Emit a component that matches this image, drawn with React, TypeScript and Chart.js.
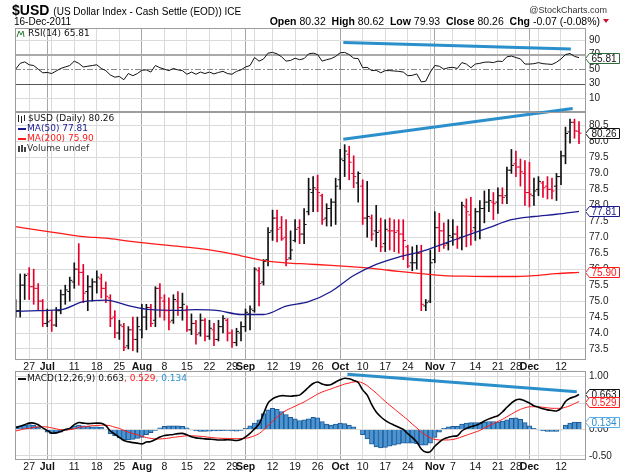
import React, { useEffect, useRef } from "react";
import { Chart, registerables } from "chart.js";

Chart.register(...registerables);

const W = 625;
const H = 473;
const PLOT_LEFT = 15;
const AXIS_W = 39;
const SANS = "'Liberation Sans', Arial, sans-serif";
const LEGEND_FONT = "'DejaVu Sans', Verdana, sans-serif";

// ---- calendar ----
const FIRST_SESSION = "2011-06-22";
const LAST_SESSION = "2011-12-16";
const HOLIDAYS = ["2011-09-05", "2011-11-24"];
const MONTHS = ["Jan", "Feb", "Mar", "Apr", "May", "Jun", "Jul", "Aug", "Sep", "Oct", "Nov", "Dec"];

// ---- daily bars ----
const opens = [
  74.95, 74.7, 75.5, 75.85, 75.45, 75.4, 75.0, 74.3, 74.4, 74.25, 74.7, 75.2, 75.3, 75.6, 76.0, 75.9, 75.3, 75.45, 75.6, 75.7,
  75.4, 75.1, 74.5, 74.0, 74.2, 73.6, 74.1, 73.8, 74.1, 74.5, 74.8, 74.4, 75.4, 75.0, 74.7, 74.4, 75.0, 74.8, 74.7, 74.1,
  74.3, 74.0, 74.4, 73.9, 74.1, 73.8, 74.2, 74.4, 74.0, 73.7, 74.0, 74.2, 74.6, 74.7, 75.95, 75.6, 76.3, 77.2, 77.6, 77.3,
  77.0, 76.35, 76.9, 77.3, 77.1, 77.8, 78.4, 78.5, 78.3, 77.6, 77.9, 78.1, 78.8, 79.4, 79.6, 79.0, 78.7, 78.6, 77.6, 77.6,
  77.2, 77.2, 76.8, 77.2, 77.2, 77.2, 77.1, 76.7, 76.2, 76.2, 76.5, 74.85, 75.0, 76.3, 77.3, 77.2, 76.8, 77.0, 77.1, 77.0,
  77.95, 77.7, 77.3, 77.8, 77.9, 78.1, 78.1, 78.1, 78.3, 78.3, 79.1, 79.3, 79.2, 79.0, 78.4, 78.3, 78.5, 78.7, 78.6, 78.5,
  78.6, 78.9, 79.55, 80.3, 80.6, 80.32,
];
const highs = [
  75.05, 75.85, 75.85, 76.05, 76.0, 75.55, 75.05, 74.75, 74.7, 74.8, 75.35, 75.5, 75.75, 76.2, 76.8, 76.15, 75.8, 75.7, 75.95, 75.85,
  75.6, 75.2, 74.7, 74.4, 74.3, 74.2, 74.5, 74.5, 74.9, 74.9, 74.9, 75.45, 75.55, 75.2, 75.1, 75.2, 75.3, 75.25, 74.85, 74.6,
  74.4, 74.6, 74.45, 74.4, 74.3, 74.4, 74.55, 74.45, 74.1, 74.15, 74.35, 74.75, 74.85, 76.05, 76.05, 76.3, 77.3, 77.85, 77.85, 77.65,
  77.55, 77.2, 77.55, 77.55, 77.9, 78.85, 78.9, 78.95, 78.35, 78.05, 78.2, 78.85, 79.75, 79.9, 79.85, 79.55, 79.05, 78.8, 78.75, 77.7,
  78.0, 77.6, 77.55, 77.6, 77.55, 77.55, 77.55, 76.75, 76.7, 76.75, 76.75, 75.05, 76.6, 77.8, 77.75, 77.45, 77.55, 77.55, 77.35, 78.1,
  78.2, 78.25, 77.9, 78.15, 78.45, 78.5, 78.4, 78.55, 78.55, 79.2, 79.75, 79.7, 79.45, 79.4, 79.35, 78.85, 78.9, 78.75, 78.9, 78.85,
  79.0, 79.7, 80.45, 80.7, 80.7, 80.62,
];
const lows = [
  74.5, 74.5, 75.05, 75.05, 74.9, 74.7, 74.2, 74.2, 74.05, 74.2, 74.6, 74.9, 75.0, 75.4, 75.5, 74.95, 74.7, 75.0, 75.25, 75.1,
  74.95, 74.2, 73.85, 73.8, 73.45, 73.5, 73.45, 73.4, 73.85, 74.1, 74.2, 74.2, 74.5, 74.4, 74.1, 74.3, 74.55, 74.4, 74.05, 73.95,
  73.65, 73.9, 73.75, 73.8, 73.6, 73.75, 74.0, 73.75, 73.55, 73.6, 73.75, 74.05, 74.1, 74.65, 74.85, 75.5, 76.1, 76.9, 76.85, 76.9,
  76.1, 76.3, 76.85, 76.8, 76.8, 77.7, 77.8, 77.8, 77.4, 77.35, 77.35, 77.4, 78.5, 78.9, 78.8, 78.55, 78.1, 77.4, 77.0, 76.9,
  76.7, 76.55, 76.55, 76.6, 76.55, 76.5, 76.3, 76.05, 75.95, 76.0, 74.7, 74.7, 74.95, 76.2, 76.55, 76.65, 76.6, 76.75, 76.65, 76.6,
  76.7, 76.75, 76.9, 76.95, 77.45, 77.8, 77.55, 77.75, 78.05, 78.05, 79.0, 78.9, 78.6, 78.0, 77.95, 78.0, 78.3, 78.25, 78.2, 78.2,
  78.15, 78.65, 79.3, 79.95, 80.1, 79.93,
];
const closes = [
  74.7, 75.5, 75.8, 75.45, 75.4, 75.0, 74.3, 74.35, 74.25, 74.7, 75.2, 75.35, 75.65, 76.0, 75.9, 75.25, 75.45, 75.6, 75.75, 75.4,
  75.15, 74.45, 74.0, 74.25, 73.55, 74.1, 73.8, 74.2, 74.5, 74.8, 74.3, 75.4, 75.1, 74.7, 74.35, 75.05, 74.8, 74.9, 74.1, 74.3,
  73.95, 74.4, 73.9, 74.15, 73.8, 74.2, 74.45, 74.0, 73.7, 74.05, 74.2, 74.65, 74.75, 76.0, 75.55, 76.25, 77.15, 77.6, 77.25, 76.95,
  76.3, 76.6, 77.25, 77.1, 77.4, 78.5, 78.55, 78.4, 77.55, 77.9, 78.1, 78.6, 79.45, 79.7, 79.35, 78.9, 79.0, 77.6, 77.65, 77.1,
  77.15, 76.7, 77.25, 77.2, 77.15, 77.1, 76.9, 76.1, 76.2, 76.5, 74.9, 74.95, 76.2, 77.3, 77.2, 76.75, 77.05, 77.1, 76.95, 78.0,
  77.8, 77.2, 77.8, 77.9, 78.1, 78.15, 78.05, 78.3, 78.25, 79.1, 79.25, 79.2, 79.05, 78.4, 78.35, 78.45, 78.75, 78.55, 78.5, 78.45,
  78.9, 79.55, 80.25, 80.6, 80.33, 80.26,
];

// moving averages, read every MA_STEP sessions
const MA_STEP = 5;
const ma50 = [
  74.68, 74.7, 74.73, 74.98, 75.03, 74.86, 74.73, 74.71, 74.73, 74.7, 74.58, 74.58, 74.84, 74.98, 75.3, 75.8,
  76.15, 76.38, 76.55, 76.8, 77.05, 77.3, 77.55, 77.65, 77.72, 77.81,
];
const ma200 = [
  77.33, 77.22, 77.12, 77.02, 76.97, 76.88, 76.8, 76.73, 76.66, 76.56, 76.42, 76.27, 76.2, 76.16, 76.12, 76.07,
  76.01, 75.93, 75.86, 75.8, 75.78, 75.77, 75.77, 75.8, 75.86, 75.9,
];

// ---- indicators ----
const rsi14 = [
  50, 58, 60, 56, 55, 50, 45, 45.5, 44, 47.5, 51, 53, 55, 61, 58, 53, 54, 55, 56, 51,
  48, 42, 39, 40, 35.5, 44, 41, 44, 48.5, 49, 46, 55, 52, 50, 48, 51, 49, 48, 43, 46,
  43, 46, 44, 46, 43.5, 45.5, 47, 44, 43, 47, 49, 53, 55, 66, 61, 64, 72, 73, 71, 67,
  61, 62, 65, 63, 64.5, 71, 72, 70, 61, 63, 64.5, 67.5, 72.5, 73, 70, 65, 64.5, 52, 52.5, 48,
  48.5, 45, 48, 48, 47.5, 47, 46, 41, 41.5, 43.5, 32.5, 33.5, 46, 55, 54, 50, 52, 52.5, 51, 59,
  57, 52, 57, 58, 59.5, 59.8, 59, 61, 60.5, 67, 68, 66, 64, 57, 57, 57.5, 59, 57.5, 57, 56.5,
  59.5, 64, 70, 71.5, 67.5, 65.81,
];
const macdLine = [
  0.03, 0.06, 0.09, 0.12, 0.12, 0.09, 0.03, -0.02, -0.07, -0.065, -0.04, 0.0, 0.02, 0.09, 0.13, 0.12, 0.11, 0.115, 0.12, 0.115,
  0.07, -0.03, -0.09, -0.15, -0.21, -0.235, -0.25, -0.26, -0.275, -0.24, -0.23, -0.19, -0.145, -0.115, -0.105, -0.095, -0.08, -0.075, -0.1, -0.14,
  -0.16, -0.17, -0.18, -0.185, -0.19, -0.2, -0.2, -0.195, -0.2, -0.21, -0.19, -0.14, -0.075, 0.01, 0.1, 0.3, 0.5, 0.58, 0.62, 0.64,
  0.635, 0.63, 0.64, 0.65, 0.72, 0.8, 0.87, 0.9, 0.86, 0.84, 0.85, 0.9, 0.94, 0.97, 0.96, 0.93, 0.89, 0.75, 0.65, 0.47,
  0.33, 0.24, 0.17, 0.12, 0.08, 0.04, 0.0, -0.08, -0.15, -0.24, -0.37, -0.43, -0.42, -0.32, -0.24, -0.18, -0.15, -0.13, -0.12, -0.03,
  0.02, 0.05, 0.075, 0.11, 0.16, 0.2, 0.23, 0.26, 0.33, 0.42, 0.5, 0.56, 0.57, 0.54, 0.5, 0.45, 0.42, 0.39, 0.37, 0.36,
  0.35, 0.4, 0.53, 0.59, 0.62, 0.663,
];
const macdSignal = [
  -0.03, -0.01, 0.01, 0.02, 0.04, 0.05, 0.05, 0.045, 0.03, 0.01, -0.005, -0.01, -0.005, 0.01, 0.04, 0.05, 0.06, 0.07, 0.075, 0.08,
  0.08, 0.07, 0.04, 0.02, -0.02, -0.05, -0.08, -0.1, -0.13, -0.155, -0.17, -0.18, -0.18, -0.175, -0.165, -0.15, -0.14, -0.13, -0.12, -0.12,
  -0.125, -0.13, -0.14, -0.15, -0.16, -0.165, -0.17, -0.17, -0.175, -0.175, -0.175, -0.17, -0.15, -0.12, -0.08, -0.01, 0.07, 0.15, 0.23, 0.3,
  0.36, 0.4, 0.44, 0.48, 0.52, 0.57, 0.62, 0.67, 0.71, 0.74, 0.77, 0.8, 0.83, 0.86, 0.88, 0.9, 0.905, 0.88, 0.83, 0.76,
  0.69, 0.61, 0.53, 0.46, 0.39, 0.32, 0.25, 0.18, 0.1, 0.03, -0.05, -0.11, -0.16, -0.19, -0.2, -0.2, -0.2, -0.19, -0.17, -0.14,
  -0.11, -0.08, -0.05, -0.02, 0.03, 0.07, 0.11, 0.15, 0.19, 0.24, 0.29, 0.34, 0.38, 0.41, 0.43, 0.43, 0.43, 0.42, 0.41, 0.4,
  0.4, 0.4, 0.42, 0.45, 0.49, 0.529,
];
const macdHist = [
  0.06, 0.07, 0.08, 0.09, 0.08, 0.05, 0.0, -0.05, -0.08, -0.07, -0.05, -0.02, 0.02, 0.07, 0.08, 0.07, 0.06, 0.05, 0.05, 0.04,
  0.0, -0.08, -0.12, -0.16, -0.2, -0.2, -0.19, -0.17, -0.15, -0.1, -0.06, -0.02, 0.03, 0.06, 0.07, 0.07, 0.07, 0.06, 0.03, -0.01,
  -0.03, -0.04, -0.04, -0.035, -0.03, -0.03, -0.025, -0.02, -0.03, -0.035, -0.02, 0.02, 0.07, 0.12, 0.18, 0.3, 0.37, 0.4, 0.38, 0.34,
  0.28, 0.23, 0.2, 0.17, 0.18, 0.2, 0.23, 0.22, 0.15, 0.1, 0.08, 0.1, 0.12, 0.11, 0.08, 0.05, 0.0, -0.1, -0.18, -0.28,
  -0.33, -0.35, -0.34, -0.32, -0.3, -0.28, -0.26, -0.26, -0.26, -0.27, -0.3, -0.3, -0.26, -0.15, -0.05, 0.02, 0.05, 0.06, 0.06, 0.1,
  0.12, 0.13, 0.13, 0.13, 0.14, 0.15, 0.15, 0.14, 0.16, 0.18, 0.21, 0.22, 0.19, 0.13, 0.07, 0.02, -0.01, -0.03, -0.04, -0.04,
  -0.04, -0.01, 0.08, 0.12, 0.14, 0.134,
];

// ---- axis ticks ----
const priceTicks = [73.5, 74.0, 74.5, 75.0, 75.5, 76.0, 76.5, 77.0, 77.5, 78.0, 78.5, 79.0, 79.5, 80.0, 80.5];
const rsiTicks = [10, 30, 50, 70, 90];
const macdTicks = [-0.5, -0.25, 0, 0.25, 0.5, 0.75, 1.0];

// ---- drawn trend lines (session index, value) ----
const priceTrend = [{ x: 72.7, y: 80.07 }, { x: 123.6, y: 81.03 }];
const rsiTrend = [{ x: 72.7, y: 86.6 }, { x: 123.2, y: 77.6 }];
const macdTrend = [{ x: 73.6, y: 1.045 }, { x: 124.5, y: 0.715 }];

// ---- header ----
const quote = { open: "80.32", high: "80.62", low: "79.93", close: "80.26", chg: "-0.07 (-0.08%)" };

const GRID = "#dadada";
const MONTH_GRID = "#a6a6a6";
const FRAME = "#9c9c9c";
const UP = "#111111";
const DOWN = "#e4002b";
const TREND = "#2b8fcb";

function tradingSessions(): Date[] {
  const out: Date[] = [];
  const end = Date.parse(LAST_SESSION + "T00:00:00Z");
  for (let t = Date.parse(FIRST_SESSION + "T00:00:00Z"); t <= end; t += 86400000) {
    const d = new Date(t);
    const wd = d.getUTCDay();
    if (wd === 0 || wd === 6) continue;
    if (HOLIDAYS.includes(d.toISOString().slice(0, 10))) continue;
    out.push(d);
  }
  return out;
}

const sessions = tradingSessions();
const X_MIN = -0.15;
const X_MAX = sessions.length + 0.55;

type AxisTick = { value: number; label: string; month: boolean };
function buildAxisTicks(days: Date[]): AxisTick[] {
  const ticks: AxisTick[] = [];
  for (let i = 1; i < days.length; i++) {
    const d = days[i];
    const p = days[i - 1];
    const newMonth = d.getUTCMonth() !== p.getUTCMonth();
    const newWeek = d.getUTCDay() < p.getUTCDay() || d.getTime() - p.getTime() > 3 * 86400000;
    if (newMonth) ticks.push({ value: i, label: MONTHS[d.getUTCMonth()], month: true });
    else if (newWeek) ticks.push({ value: i, label: String(d.getUTCDate()), month: false });
  }
  const monthPos = ticks.filter((t) => t.month).map((t) => t.value);
  for (const t of ticks) {
    if (!t.month && monthPos.some((m) => Math.abs(m - t.value) <= 2)) t.label = "";
  }
  return ticks;
}
const axisTicks = buildAxisTicks(sessions);
const monthTickSet = new Set(axisTicks.filter((t) => t.month).map((t) => t.value));
const tickLabel = new Map(axisTicks.map((t) => [t.value, t.label]));

function xAxis(showLabels: boolean, height: number) {
  return {
    type: "linear",
    min: X_MIN,
    max: X_MAX,
    offset: false,
    afterBuildTicks: (s: any) => {
      s.ticks = axisTicks.map((t) => ({ value: t.value }));
    },
    afterFit: (s: any) => {
      s.height = height;
      s.paddingLeft = 0;
      s.paddingRight = 0;
      s.paddingTop = 0;
      s.paddingBottom = 0;
    },
    grid: {
      offset: false,
      drawTicks: false,
      color: (c: any) => (c.tick && monthTickSet.has(c.tick.value) ? MONTH_GRID : GRID),
      lineWidth: 1,
    },
    border: { display: false },
    ticks: {
      display: showLabels,
      autoSkip: false,
      maxRotation: 0,
      padding: 1,
      color: "#111",
      font: (c: any) => ({
        family: SANS,
        size: 10.5,
        weight: c.tick && monthTickSet.has(c.tick.value) ? "bold" : "normal",
      }),
      callback: (v: any) => tickLabel.get(v) ?? "",
    },
  };
}

function yAxis(min: number, max: number, values: number[], fmt: (v: number) => string, gridColor?: (v: number) => string) {
  return {
    position: "right",
    min,
    max,
    beginAtZero: false,
    afterBuildTicks: (s: any) => {
      s.ticks = values.map((v) => ({ value: v }));
    },
    afterFit: (s: any) => {
      s.width = AXIS_W;
      s.paddingTop = 0;
      s.paddingBottom = 0;
      s.paddingLeft = 0;
      s.paddingRight = 0;
    },
    grid: {
      drawTicks: false,
      color: (c: any) => (gridColor && c.tick ? gridColor(c.tick.value) : GRID),
    },
    border: { display: false },
    ticks: {
      padding: 3,
      color: "#222",
      font: { family: SANS, size: 10 },
      callback: (v: any) => fmt(Number(v)),
    },
  };
}

function drawTag(ctx: CanvasRenderingContext2D, x: number, y: number, text: string, stroke: string, color: string) {
  ctx.save();
  ctx.font = `10px ${SANS}`;
  const w = Math.ceil(ctx.measureText(text).width) + 4;
  const h = 10;
  const tip = 4;
  const top = Math.round(y - h / 2) + 0.5;
  const x0 = Math.round(x) + 0.5;
  ctx.beginPath();
  ctx.moveTo(x0, top + h / 2);
  ctx.lineTo(x0 + tip, top);
  ctx.lineTo(x0 + tip + w, top);
  ctx.lineTo(x0 + tip + w, top + h);
  ctx.lineTo(x0 + tip, top + h);
  ctx.closePath();
  ctx.fillStyle = "#fff";
  ctx.fill();
  ctx.strokeStyle = stroke;
  ctx.lineWidth = 1;
  ctx.stroke();
  ctx.fillStyle = color;
  ctx.textAlign = "left";
  ctx.textBaseline = "middle";
  ctx.fillText(text, x0 + tip + 2, top + h / 2 + 0.5);
  ctx.restore();
}

const framePlugin = {
  id: "panelFrame",
  afterDraw(chart: any) {
    const { ctx, chartArea: a } = chart;
    ctx.save();
    ctx.strokeStyle = FRAME;
    ctx.lineWidth = 1;
    ctx.strokeRect(Math.round(a.left) + 0.5, Math.round(a.top) + 0.5, Math.round(a.right - a.left) - 1, Math.round(a.bottom - a.top) - 1);
    ctx.restore();
  },
};

function legendRow(ctx: CanvasRenderingContext2D, x: number, y: number, parts: { text: string; color: string }[]) {
  ctx.font = `9px ${LEGEND_FONT}`;
  ctx.textBaseline = "middle";
  ctx.textAlign = "left";
  let cx = x;
  for (const p of parts) {
    ctx.fillStyle = p.color;
    ctx.fillText(p.text, cx, y);
    cx += ctx.measureText(p.text).width;
  }
}

function commonOptions(padding: any) {
  return {
    animation: false,
    responsive: false,
    maintainAspectRatio: false,
    devicePixelRatio: 1,
    events: [],
    layout: { padding },
    plugins: { legend: { display: false }, tooltip: { enabled: false } },
  };
}

function makeRsiChart(canvas: HTMLCanvasElement) {
  const headerPlugin = {
    id: "header",
    afterDraw(chart: any) {
      const { ctx } = chart;
      ctx.save();
      ctx.textBaseline = "alphabetic";
      ctx.textAlign = "left";
      ctx.fillStyle = "#000";
      ctx.font = `bold 14px ${SANS}`;
      ctx.fillText("$USD", 12, 15);
      const w = ctx.measureText("$USD").width;
      ctx.font = `10px ${SANS}`;
      ctx.fillText("(US Dollar Index - Cash Settle (EOD)) ICE", 12 + w + 4, 15);
      ctx.fillStyle = "#333";
      ctx.font = `9px ${SANS}`;
      ctx.textAlign = "right";
      ctx.fillText("@StockCharts.com", 607, 13);
      ctx.textAlign = "left";
      ctx.fillStyle = "#000";
      ctx.font = `10px ${SANS}`;
      ctx.fillText("16-Dec-2011", 14, 25);
      // quote line, laid out right to left
      const segs: { t: string; bold: boolean }[] = [
        { t: "Open ", bold: true }, { t: quote.open + "  ", bold: false },
        { t: "High ", bold: true }, { t: quote.high + "  ", bold: false },
        { t: "Low ", bold: true }, { t: quote.low + "  ", bold: false },
        { t: "Close ", bold: true }, { t: quote.close + "  ", bold: false },
        { t: "Chg ", bold: true }, { t: quote.chg, bold: false },
      ];
      let total = 0;
      for (const s of segs) {
        ctx.font = `${s.bold ? "bold " : ""}10.5px ${SANS}`;
        total += ctx.measureText(s.t).width;
      }
      let x = 600 - total;
      for (const s of segs) {
        ctx.font = `${s.bold ? "bold " : ""}10.5px ${SANS}`;
        ctx.fillText(s.t, x, 25);
        x += ctx.measureText(s.t).width;
      }
      ctx.fillStyle = "#d0102a";
      ctx.beginPath();
      ctx.moveTo(603, 19);
      ctx.lineTo(609, 19);
      ctx.lineTo(606, 23);
      ctx.closePath();
      ctx.fill();
      ctx.restore();
    },
  };
  const rsiDecor = {
    id: "rsiDecor",
    beforeDatasetsDraw(chart: any) {
      const { ctx, chartArea: a, scales } = chart;
      const y = scales.y;
      ctx.save();
      const line = (v: number, color: string, width: number, dash: number[]) => {
        const py = Math.round(y.getPixelForValue(v)) + (width % 2 ? 0.5 : 0);
        ctx.strokeStyle = color;
        ctx.lineWidth = width;
        ctx.setLineDash(dash);
        ctx.beginPath();
        ctx.moveTo(a.left, py);
        ctx.lineTo(a.right, py);
        ctx.stroke();
      };
      line(70, "#a9a9a9", 2, []);
      line(50, "#8a8a8a", 1, [6, 2, 2, 2]);
      line(30, "#555555", 1, []);
      ctx.restore();
    },
    afterDraw(chart: any) {
      const { ctx, chartArea: a, scales } = chart;
      ctx.save();
      // legend
      ctx.strokeStyle = "#2f7d32";
      ctx.lineWidth = 1;
      ctx.beginPath();
      ctx.moveTo(a.left + 2, a.top + 9);
      ctx.lineTo(a.left + 4, a.top + 3);
      ctx.lineTo(a.left + 6, a.top + 7);
      ctx.lineTo(a.left + 8, a.top + 3);
      ctx.lineTo(a.left + 9, a.top + 9);
      ctx.stroke();
      legendRow(ctx, a.left + 13, a.top + 5.5, [{ text: "RSI(14) 65.81", color: "#111" }]);
      const last = rsi14[rsi14.length - 1];
      drawTag(ctx, a.right - 1, scales.y.getPixelForValue(last), last.toFixed(2), "#2e6b3a", "#111");
      ctx.restore();
    },
  };
  return new Chart(canvas, {
    type: "line",
    data: {
      datasets: [
        {
          data: rsi14.map((v, i) => ({ x: i, y: v })),
          borderColor: "#111",
          borderWidth: 1,
          pointRadius: 0,
          tension: 0,
        },
        {
          data: rsiTrend,
          borderColor: TREND,
          borderWidth: 3,
          pointRadius: 0,
        },
      ],
    },
    options: {
      ...commonOptions({ left: PLOT_LEFT, top: 28, right: 0, bottom: 4 }),
      scales: {
        x: xAxis(false, 0),
        y: yAxis(-8.8, 106.5, rsiTicks, (v) => String(v), (v) => (v === 10 || v === 90 ? GRID : "rgba(0,0,0,0)")),
      },
    },
    plugins: [rsiDecor, framePlugin, headerPlugin],
  } as any);
}

function makePriceChart(canvas: HTMLCanvasElement) {
  const upDown = closes.map((c, i) => (i === 0 || c >= closes[i - 1] ? UP : DOWN));
  const ohlcTicks = {
    id: "ohlcTicks",
    afterDatasetsDraw(chart: any) {
      const { ctx, chartArea: a, scales } = chart;
      const x = scales.x;
      const y = scales.y;
      ctx.save();
      ctx.beginPath();
      ctx.rect(a.left, a.top, a.right - a.left, a.bottom - a.top);
      ctx.clip();
      for (let i = 0; i < closes.length; i++) {
        const px = x.getPixelForValue(i);
        ctx.fillStyle = upDown[i];
        ctx.fillRect(px - 2.5, y.getPixelForValue(opens[i]) - 0.5, 2, 1);
        ctx.fillRect(px + 0.5, y.getPixelForValue(closes[i]) - 0.5, 2, 1);
      }
      ctx.restore();
    },
    afterDraw(chart: any) {
      const { ctx, chartArea: a, scales } = chart;
      const y = scales.y;
      ctx.save();
      const lx = a.left + 3;
      const t = a.top;
      // bar glyph
      ctx.fillStyle = "#222";
      ctx.fillRect(lx, t + 3, 1, 7);
      ctx.fillRect(lx + 3, t + 4, 1, 7);
      ctx.fillRect(lx + 6, t + 3, 1, 6);
      legendRow(ctx, lx + 10, t + 7, [{ text: "$USD (Daily) 80.26", color: "#111" }]);
      ctx.fillStyle = "#1b1b8f";
      ctx.fillRect(lx, t + 16, 8, 2);
      legendRow(ctx, lx + 9, t + 17, [{ text: "MA(50) 77.81", color: "#1b1b8f" }]);
      ctx.fillStyle = "#ff1a1a";
      ctx.fillRect(lx, t + 26, 8, 2);
      legendRow(ctx, lx + 9, t + 27, [{ text: "MA(200) 75.90", color: "#ff1a1a" }]);
      ctx.fillStyle = "#444";
      ctx.fillRect(lx, t + 34, 2, 6);
      ctx.fillRect(lx + 3, t + 33, 2, 7);
      ctx.fillRect(lx + 6, t + 35, 2, 5);
      legendRow(ctx, lx + 9, t + 36.5, [{ text: "Volume undef", color: "#333" }]);

      const lastClose = closes[closes.length - 1];
      const lastMa50 = ma50[ma50.length - 1];
      const lastMa200 = ma200[ma200.length - 1];
      drawTag(ctx, a.right - 1, y.getPixelForValue(lastClose), lastClose.toFixed(2), "#111", "#111");
      drawTag(ctx, a.right - 1, y.getPixelForValue(lastMa50), lastMa50.toFixed(2), "#1b1b8f", "#1b1b8f");
      drawTag(ctx, a.right - 1, y.getPixelForValue(lastMa200), lastMa200.toFixed(2), "#ff1a1a", "#ff1a1a");
      ctx.restore();
    },
  };
  return new Chart(canvas, {
    type: "line",
    data: {
      datasets: [
        {
          type: "bar",
          data: closes.map((_, i) => ({ x: i, y: [lows[i], highs[i]] })),
          backgroundColor: upDown,
          borderWidth: 0,
          barThickness: 1,
          grouped: false,
          order: 3,
        },
        {
          data: ma50.map((v, k) => ({ x: k * MA_STEP, y: v })),
          borderColor: "#1b1b8f",
          borderWidth: 1.3,
          pointRadius: 0,
          cubicInterpolationMode: "monotone",
          order: 2,
        },
        {
          data: ma200.map((v, k) => ({ x: k * MA_STEP, y: v })),
          borderColor: "#ff1a1a",
          borderWidth: 1.3,
          pointRadius: 0,
          cubicInterpolationMode: "monotone",
          order: 2,
        },
        {
          data: priceTrend,
          borderColor: TREND,
          borderWidth: 3,
          pointRadius: 0,
          clip: false,
          order: 1,
        },
      ],
    },
    options: {
      ...commonOptions({ left: PLOT_LEFT, top: 16, right: 0, bottom: 2 }),
      scales: {
        x: xAxis(true, 14),
        y: yAxis(73.155, 80.923, priceTicks, (v) => v.toFixed(1)),
      },
    },
    plugins: [ohlcTicks, framePlugin],
  } as any);
}

function makeMacdChart(canvas: HTMLCanvasElement) {
  const macdDecor = {
    id: "macdDecor",
    afterDraw(chart: any) {
      const { ctx, chartArea: a, scales } = chart;
      const y = scales.y;
      ctx.save();
      ctx.fillStyle = "#111";
      ctx.fillRect(a.left + 3, a.top + 7, 8, 2);
      legendRow(ctx, a.left + 12, a.top + 8, [
        { text: "MACD(12,26,9) 0.663", color: "#111" },
        { text: ", 0.529", color: "#ff1a1a" },
        { text: ", 0.134", color: "#2a8fd0" },
      ]);
      const m = macdLine[macdLine.length - 1];
      const s = macdSignal[macdSignal.length - 1];
      const h = macdHist[macdHist.length - 1];
      drawTag(ctx, a.right - 1, y.getPixelForValue(m), m.toFixed(3), "#111", "#111");
      drawTag(ctx, a.right - 1, y.getPixelForValue(s), s.toFixed(3), "#ff1a1a", "#ff1a1a");
      drawTag(ctx, a.right - 1, y.getPixelForValue(h), h.toFixed(3), "#5aaee8", "#2a8fd0");
      ctx.restore();
    },
  };
  return new Chart(canvas, {
    type: "line",
    data: {
      datasets: [
        {
          type: "bar",
          data: macdHist.map((v, i) => ({ x: i, y: v })),
          backgroundColor: "#4b95d3",
          borderColor: "#1d5a96",
          borderWidth: 1,
          barThickness: 4.5,
          grouped: false,
          order: 3,
        },
        {
          data: macdSignal.map((v, i) => ({ x: i, y: v })),
          borderColor: "#ff1a1a",
          borderWidth: 1,
          pointRadius: 0,
          tension: 0.3,
          order: 2,
        },
        {
          data: macdLine.map((v, i) => ({ x: i, y: v })),
          borderColor: "#000",
          borderWidth: 1.6,
          pointRadius: 0,
          tension: 0.3,
          order: 1,
        },
        {
          data: macdTrend,
          borderColor: TREND,
          borderWidth: 3,
          pointRadius: 0,
          order: 0,
        },
      ],
    },
    options: {
      ...commonOptions({ left: PLOT_LEFT, top: 7, right: 0, bottom: 1 }),
      scales: {
        x: xAxis(true, 12),
        y: yAxis(-0.58, 1.108, macdTicks, (v) => v.toFixed(2)),
      },
    },
    plugins: [macdDecor, framePlugin],
  } as any);
}

export default function App() {
  const rsiRef = useRef<HTMLCanvasElement>(null);
  const priceRef = useRef<HTMLCanvasElement>(null);
  const macdRef = useRef<HTMLCanvasElement>(null);

  useEffect(() => {
    const charts = [
      makeRsiChart(rsiRef.current!),
      makePriceChart(priceRef.current!),
      makeMacdChart(macdRef.current!),
    ];
    return () => charts.forEach((c) => c.destroy());
  }, []);

  const abs = (top: number, height: number) => ({
    position: "absolute" as const,
    left: 0,
    top,
    width: W,
    height,
  });

  return (
    <div style={{ position: "fixed", left: 0, top: 0, width: W, height: H, background: "#fff", overflow: "hidden" }}>
      <canvas ref={rsiRef} width={W} height={116} style={abs(0, 116)} />
      <canvas ref={priceRef} width={W} height={280} style={abs(96, 280)} />
      <canvas ref={macdRef} width={W} height={109} style={abs(364, 109)} />
    </div>
  );
}
